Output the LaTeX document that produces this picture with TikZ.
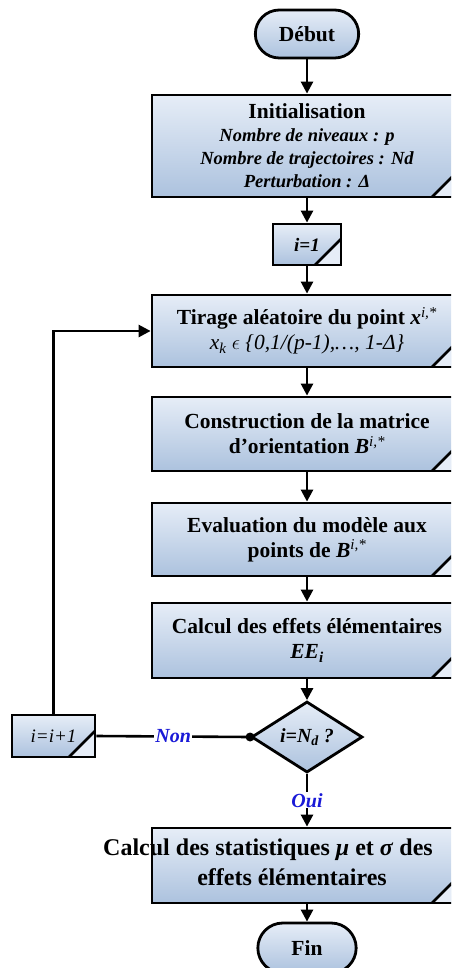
\documentclass[tikz,border=0pt]{standalone}
\usepackage{fontspec}
\setmainfont{Liberation Serif}
\usetikzlibrary{shapes.geometric,shapes.misc,arrows.meta}
\definecolor{boxtop}{RGB}{230,237,247}
\definecolor{boxbot}{RGB}{172,194,222}
\definecolor{answerblue}{RGB}{25,25,215}

\begin{document}
\begin{tikzpicture}[x=1pt,y=-1pt,
  procbox/.style={draw, line width=2.8pt, rectangle, minimum width=310pt, inner sep=0pt,
    top color=boxtop, bottom color=boxbot, align=center,
    font=\bfseries\fontsize{21.5}{25}\selectfont,
    path picture={
      \fill[boxtop] ([xshift=-#1]path picture bounding box.south east) -- (path picture bounding box.south east)
        -- ([yshift=#1]path picture bounding box.south east) -- cycle;
      \draw[line width=2.6pt] ([xshift=-#1]path picture bounding box.south east)
        -- ([yshift=#1]path picture bounding box.south east);}},
  procbox/.default=30pt,
  termbox/.style={draw, line width=2.8pt, rounded rectangle, minimum width=110pt, minimum height=48pt,
    top color=boxtop, bottom color=boxbot, font=\bfseries\fontsize{21.5}{25}\selectfont},
  testbox/.style={draw, line width=2.8pt, diamond, minimum width=111pt, minimum height=67pt, inner sep=0pt,
    top color=boxtop, bottom color=boxbot, font=\bfseries\itshape\fontsize{20}{24}\selectfont},
  flow/.style={line width=2.6pt, -{Triangle[length=12pt,width=12pt]}},
  answer/.style={text=answerblue, fill=white, inner sep=1pt, font=\bfseries\itshape\fontsize{20}{24}\selectfont}
]
\path[use as bounding box, clip] (0,0) rectangle (451,968);

\node[termbox] (debut) at (307,34) {Début};
\node[procbox, minimum height=102pt, font=\bfseries\itshape\fontsize{18.5}{23}\selectfont] (init) at (307,146)
  {{\upshape\fontsize{21.5}{23}\selectfont Initialisation}\\ Nombre de niveaux : p\\ Nombre de trajectoires : Nd\\ Perturbation : Δ};
\node[procbox=26pt, minimum width=68pt, minimum height=41pt, font=\bfseries\itshape\fontsize{19}{23}\selectfont] (i1) at (307,244.5) {i=1};
\node[procbox, minimum height=72pt] (tirage) at (307,331)
  {Tirage aléatoire du point \textit{x}\textsuperscript{\textit{\mdseries i,*}}\\
   {\mdseries\itshape x\textsubscript{k} $\epsilon$ \{0,1/(p-1),…, 1-Δ\}}};
\node[procbox, minimum height=74pt] (constr) at (307,434)
  {Construction de la matrice\\ d’orientation \textit{B}\textsuperscript{\textit{\mdseries i,*}}};
\node[procbox, minimum height=73pt] (eval) at (307,539.5)
  {Evaluation du modèle aux\\ points de \textit{B}\textsuperscript{\textit{\mdseries i,*}}};
\node[procbox, minimum height=75pt] (calc) at (307,640.5)
  {Calcul des effets élémentaires\\ \textit{EE}\textsubscript{\textit{i}}};
\node[testbox] (test) at (307,737) {i=N\textsubscript{d} ?};
\node[procbox=26pt, minimum width=83pt, minimum height=42pt, font=\itshape\fontsize{19}{23}\selectfont] (iinc) at (53.5,736) {i=i+1};
\node[procbox, minimum height=75pt] (stats) at (307,865.5) {};
\node[font=\bfseries\fontsize{24}{30}\selectfont, align=center] (statslbl) at (292,862)
  {\makebox[0pt]{\kern-48pt Calcul des statistiques \textit{μ} et \textit{σ} des}\\ effets élémentaires};
\node[termbox, minimum width=105pt, minimum height=50pt] (fin) at (307,948) {Fin};

\draw[flow] (debut.south) -- (init.north);
\draw[flow] (init.south) -- (i1.north);
\draw[flow] (i1.south) -- (tirage.north);
\draw[flow] (tirage.south) -- (constr.north);
\draw[flow] (constr.south) -- (eval.north);
\draw[flow] (eval.south) -- (calc.north);
\draw[flow] (calc.south) -- (test.north);
\draw[flow] (test.south) -- node[answer] {Oui} (stats.north);
\draw[flow] (stats.south) -- (fin.north);
\draw[line width=2.6pt] (test.west) -- node[answer] {Non} (iinc.east);
\fill (test.west) circle (4.5pt);
\draw[flow] (iinc.north) |- (tirage.west);

%\caption{Méthode de Morris}
\end{tikzpicture}
\end{document}
